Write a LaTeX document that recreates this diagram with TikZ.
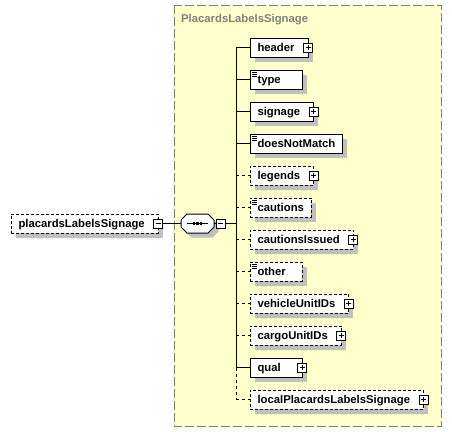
\documentclass[tikz,border=0pt]{standalone}
\usepackage{fontspec}
\setmainfont{Liberation Sans}
\usetikzlibrary{positioning, shadows}

\definecolor{groupfill}{RGB}{255,255,204}
\definecolor{groupline}{RGB}{128,128,128}
\definecolor{shade}{RGB}{192,192,192}

\tikzset{
  elem/.style={draw, fill=white, line width=1pt, anchor=west, outer sep=0pt,
    inner xsep=7.5pt, inner ysep=0pt, minimum height=19pt,
    text height=9.5pt, text depth=1pt,
    font=\fontsize{11.3}{13}\selectfont\bfseries,
    drop shadow={shadow xshift=4.5pt, shadow yshift=-4.5pt, fill=shade, opacity=1}},
  opt/.style={dash pattern=on 3pt off 2pt},
  kids/.style={execute at end node={\hspace{6pt}}},
  short/.style={text width=37pt, align=left},
  sign/.style={draw, fill=white, line width=0.8pt, minimum size=9pt, inner sep=0pt, outer sep=0pt},
  plus/.style={sign, path picture={
      \draw[line width=0.8pt] ([xshift=2pt]path picture bounding box.west) -- ([xshift=-2pt]path picture bounding box.east)
        ([yshift=-2pt]path picture bounding box.north) -- ([yshift=2pt]path picture bounding box.south);}},
  minus/.style={sign, path picture={
      \draw[line width=0.8pt] ([xshift=2pt]path picture bounding box.west) -- ([xshift=-2pt]path picture bounding box.east);}},
  link/.style={line width=1pt},
  optlink/.style={line width=1pt, dash pattern=on 3pt off 3pt},
}

\begin{document}
\begin{tikzpicture}[x=1pt, y=1pt, node distance=13pt]
  \useasboundingbox (0,0) rectangle (452,-431);

  % complex type box
  \draw[groupline, fill=groupfill, line width=1pt, dash pattern=on 9pt off 3pt] (174,-5) rectangle (441,-426);
  \node[anchor=base west, inner sep=0pt, text=groupline, font=\fontsize{11.3}{13}\selectfont\bfseries]
    (title) at (181,-22.5) {PlacardsLabelsSignage};

  % root element and sequence
  \node[elem, opt, kids] (pls) at (11,-223.5) {placardsLabelsSignage};
  \node[minimum width=33pt, minimum height=19pt, inner sep=0pt, outer sep=0pt] (seq) at (197.5,-223.5) {};
  \coordinate (spine) at (236,0);

  % children
  \node[elem, kids] (header) at (250,-47.5) {header};
  \node[elem, short, below=of header.south west, anchor=north west] (type) {type};
  \node[elem, kids, below=of type.south west, anchor=north west] (signage) {signage};
  \node[elem, below=of signage.south west, anchor=north west] (doesNotMatch) {doesNotMatch};
  \node[elem, opt, kids, below=of doesNotMatch.south west, anchor=north west] (legends) {legends};
  \node[elem, opt, below=of legends.south west, anchor=north west] (cautions) {cautions};
  \node[elem, opt, kids, below=of cautions.south west, anchor=north west] (cautionsIssued) {cautionsIssued};
  \node[elem, opt, short, below=of cautionsIssued.south west, anchor=north west] (other) {other};
  \node[elem, opt, kids, below=of other.south west, anchor=north west] (vehicleUnitIDs) {vehicleUnitIDs};
  \node[elem, opt, kids, below=of vehicleUnitIDs.south west, anchor=north west] (cargoUnitIDs) {cargoUnitIDs};
  \node[elem, short, below=of cargoUnitIDs.south west, anchor=north west] (qual) {qual};
  \node[elem, opt, kids, below=of qual.south west, anchor=north west] (localPlacardsLabelsSignage) {localPlacardsLabelsSignage};

  % sequence compositor
  \draw[line width=1pt, fill=white, drop shadow={shadow xshift=4.5pt, shadow yshift=-4.5pt, fill=shade, opacity=1}]
    ([xshift=6pt]seq.north west) -- ([xshift=-6pt]seq.north east) -- ([yshift=-6pt]seq.north east)
    -- ([yshift=6pt]seq.south east) -- ([xshift=-6pt]seq.south east) -- ([xshift=6pt]seq.south west)
    -- ([yshift=6pt]seq.south west) -- ([yshift=-6pt]seq.north west) -- cycle;
  \draw[line width=1pt] ([xshift=6pt]seq.west) -- ([xshift=-6pt]seq.east);
  \foreach \dx in {-3.5,0,3.5}
    \fill ([xshift=\dx pt]seq.center) +(-1.2pt,-1.5pt) rectangle +(1.2pt,1.5pt);

  % connectors
  \draw[link] (pls.east) -- (seq.west);
  \draw[link] (seq.east) -- (seq.east -| spine);
  \draw[link] (header.west -| spine) -- (qual.west -| spine);
  \draw[optlink] (qual.west -| spine) -- (localPlacardsLabelsSignage.west -| spine);
  \foreach \n in {header, type, signage, doesNotMatch, qual}
    \draw[link] (\n.west -| spine) -- (\n.west);
  \foreach \n in {legends, cautions, cautionsIssued, other, vehicleUnitIDs, cargoUnitIDs, localPlacardsLabelsSignage}
    \draw[optlink] (\n.west -| spine) -- (\n.west);

  % expand / collapse signs
  \node[minus] (pls-) at (pls.east) {};
  \node[minus, right=2pt of seq] (seq-) {};
  \foreach \n in {header, signage, legends, cautionsIssued, vehicleUnitIDs, cargoUnitIDs, qual, localPlacardsLabelsSignage}
    \node[plus] (\n+) at (\n.east) {};

  % documentation marks
  \foreach \n in {type, doesNotMatch, cautions, other}
    \foreach \dy in {2,4,6}
      \draw[line width=0.8pt] ([shift={(2pt,-\dy pt)}]\n.north west) -- +(5pt,0);
\end{tikzpicture}
\end{document}
